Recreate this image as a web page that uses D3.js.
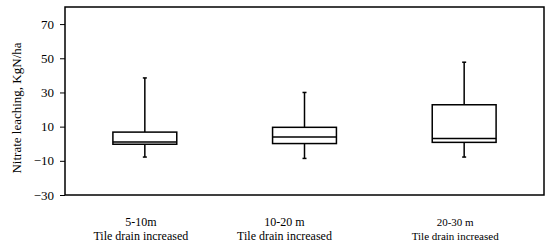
<!DOCTYPE html>
<html>
<head>
<meta charset="utf-8">
<script src="https://cdn.jsdelivr.net/npm/d3@7"></script>
<style>
  body { margin: 0; background: #fff; }
  text { font-family: "Liberation Serif", "Times New Roman", serif; fill: #000; }
</style>
</head>
<body>
<div id="chart"></div>
<script>
// chart values
var groups = ["5-10m", "10-20 m", "20-30 m"];
var subLabel = "Tile drain increased";
var whiskerLow = [-7.8, -8.6, -7.8];
var q1 = [-0.3, 0.1, 0.8];
var median = [1.0, 4.0, 3.0];
var q3 = [6.8, 9.6, 22.8];
var whiskerHigh = [38.5, 30, 47.7];
var yTicks = [-30, -10, 10, 30, 50, 70];

// layout
var width = 550, height = 248;
var margin = { top: 7, right: 6, bottom: 53, left: 65 };
var labelShift = [-4, -20, -9];
var labelSize = [12, 12, 11];

var svg = d3.select('#chart').append('svg')
  .attr('width', width)
  .attr('height', height);

var x = d3.scaleBand()
  .domain(groups)
  .range([margin.left, width - margin.right])
  .padding(0);

var y = d3.scaleLinear()
  .domain([-30, 80])
  .range([height - margin.bottom, margin.top]);

var boxW = x.bandwidth() * 0.4;
var capW = 4;

// y axis ticks + labels
var yAxis = d3.axisLeft(y).tickValues(yTicks).tickSize(5).tickSizeOuter(0);
var gy = svg.append('g')
  .attr('transform', 'translate(' + margin.left + ',0)')
  .call(yAxis);
gy.select('.domain').remove();
gy.selectAll('line').attr('stroke', '#000').attr('stroke-width', 1);
gy.selectAll('text')
  .attr('x', -11)
  .style('font-size', '13px')
  .style('font-family', '"Liberation Serif", serif');

// plot frame
svg.append('rect')
  .attr('x', margin.left)
  .attr('y', margin.top)
  .attr('width', width - margin.right - margin.left)
  .attr('height', y(-30) - margin.top)
  .attr('fill', 'none')
  .attr('stroke', '#000')
  .attr('stroke-width', 1.5);

// boxes
var boxes = svg.append('g').selectAll('g')
  .data(groups)
  .enter()
  .append('g')
  .attr('transform', function (d) {
    return 'translate(' + (x(d) + x.bandwidth() / 2) + ',0)';
  });

boxes.append('line')
  .attr('x1', 0).attr('x2', 0)
  .attr('y1', function (_, i) { return y(whiskerHigh[i]); })
  .attr('y2', function (_, i) { return y(q3[i]); })
  .attr('stroke', '#000').attr('stroke-width', 1.5);

boxes.append('line')
  .attr('x1', 0).attr('x2', 0)
  .attr('y1', function (_, i) { return y(q1[i]); })
  .attr('y2', function (_, i) { return y(whiskerLow[i]); })
  .attr('stroke', '#000').attr('stroke-width', 1.5);

// whisker caps
[whiskerHigh, whiskerLow].forEach(function (arr) {
  boxes.append('line')
    .attr('x1', -capW / 2).attr('x2', capW / 2)
    .attr('y1', function (_, i) { return y(arr[i]); })
    .attr('y2', function (_, i) { return y(arr[i]); })
    .attr('stroke', '#000').attr('stroke-width', 1.5);
});

boxes.append('rect')
  .attr('x', -boxW / 2)
  .attr('width', boxW)
  .attr('y', function (_, i) { return y(q3[i]); })
  .attr('height', function (_, i) { return y(q1[i]) - y(q3[i]); })
  .attr('fill', '#fff')
  .attr('stroke', '#000')
  .attr('stroke-width', 1.5);

boxes.append('line')
  .attr('x1', -boxW / 2).attr('x2', boxW / 2)
  .attr('y1', function (_, i) { return y(median[i]); })
  .attr('y2', function (_, i) { return y(median[i]); })
  .attr('stroke', '#000').attr('stroke-width', 1.5);

// category labels (two lines)
var labels = svg.append('g').selectAll('text')
  .data(groups)
  .enter()
  .append('text')
  .attr('text-anchor', 'middle')
  .style('font-size', function (_, i) { return labelSize[i] + 'px'; })
  .attr('transform', function (d, i) {
    return 'translate(' + (x(d) + x.bandwidth() / 2 + labelShift[i]) + ',226)';
  });
labels.append('tspan').attr('x', 0).attr('y', 0).text(function (d) { return d; });
labels.append('tspan').attr('x', 0).attr('y', 14).text(subLabel);

// y axis title
svg.append('text')
  .attr('transform', 'translate(21,' + ((margin.top + y(-30)) / 2 + 7) + ') rotate(-90)')
  .attr('text-anchor', 'middle')
  .style('font-size', '13px')
  .text('Nitrate leaching, KgN/ha');
</script>
</body>
</html>
